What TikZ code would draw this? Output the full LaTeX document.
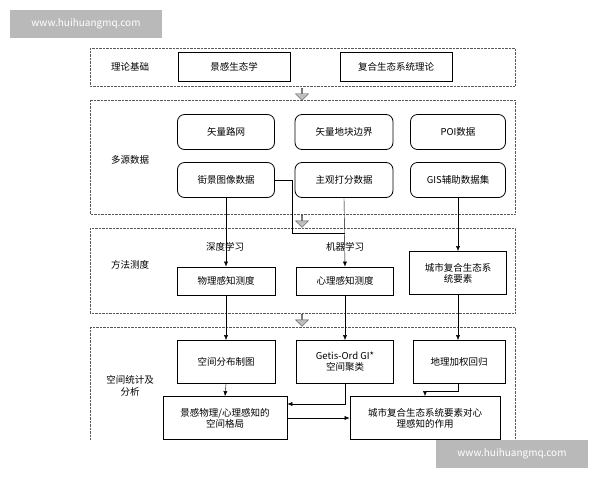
\documentclass[tikz,border=0pt]{standalone}
\usepackage{fontspec}
\setmainfont{Noto Sans CJK SC}
\usetikzlibrary{arrows.meta,shapes.arrows}
\tikzset{
  panel/.style={draw, densely dotted, gray!70!black},
  sqbox/.style={draw, thick, align=center, inner sep=1pt, font=\fontsize{9.5}{11}\selectfont},
  rdbox/.style={sqbox, rounded corners=7pt},
  lbl/.style={align=center, font=\fontsize{9.5}{12}\selectfont},
  flow/.style={-{Latex[length=5pt,width=4pt]}},
  bigarrow/.style={single arrow, draw=gray!60!black, fill=gray!50, shape border rotate=270,
    minimum width=13pt, single arrow head extend=2pt, minimum height=12pt, inner sep=0pt},
  wmark/.style={fill=gray!55, text=white, font=\fontsize{10}{12}\selectfont, inner sep=4pt}
}
\begin{document}
\begin{tikzpicture}[x=1pt,y=-1pt]
  \useasboundingbox (0,0) rectangle (600,480);

  % Panels
  \draw[panel] (90,48) rectangle (515,86);
  \draw[panel] (90,100) rectangle (515,214);
  \draw[panel] (90,228) rectangle (515,313);
  \draw[panel] (90,327) -- (90,440) (515,440) -- (515,327) -- (90,327);

  % Panel labels
  \node[lbl] (lab1) at (130,67) {理论基础};
  \node[lbl] (lab2) at (130,160) {多源数据};
  \node[lbl] (lab3) at (130,265) {方法测度};
  \node[lbl] (lab4) at (130,386) {空间统计及\\分析};

  % Theory
  \node[sqbox, minimum width=112pt, minimum height=29pt] (jg) at (234,67) {景感生态学};
  \node[sqbox, minimum width=112pt, minimum height=29pt] (fh) at (396,67) {复合生态系统理论};

  % Data
  \node[rdbox, minimum width=97pt, minimum height=35pt] (road) at (226,132) {矢量路网};
  \node[rdbox, minimum width=98pt, minimum height=35pt] (plot) at (344,132) {矢量地块边界};
  \node[rdbox, minimum width=95pt, minimum height=35pt] (poi) at (458,132) {POI数据};
  \node[rdbox, minimum width=97pt, minimum height=35pt] (street) at (226,180) {街景图像数据};
  \node[rdbox, minimum width=98pt, minimum height=35pt] (score) at (344,180) {主观打分数据};
  \node[rdbox, minimum width=95pt, minimum height=35pt] (gis) at (458,180) {GIS辅助数据集};

  % Methods
  \node[lbl] (deep) at (225,247) {深度学习};
  \node[lbl] (ml) at (345,247) {机器学习};
  \node[sqbox, minimum width=98pt, minimum height=28pt] (phys) at (226,281) {物理感知测度};
  \node[sqbox, minimum width=97pt, minimum height=28pt] (psy) at (345,281) {心理感知测度};
  \node[sqbox, minimum width=97pt, minimum height=43pt] (urb) at (458,273) {城市复合生态系\\统要素};

  % Analysis
  \node[sqbox, minimum width=98pt, minimum height=43pt] (map) at (226,362) {空间分布制图};
  \node[sqbox, minimum width=97pt, minimum height=43pt] (getis) at (345,362) {Getis-Ord GI*\\空间聚类};
  \node[sqbox, minimum width=92pt, minimum height=43pt] (gwr) at (459,362) {地理加权回归};
  \node[sqbox, minimum width=124pt, minimum height=43pt] (pat) at (225,418) {景感物理/心理感知的\\空间格局};
  \node[sqbox, minimum width=150pt, minimum height=43pt] (eff) at (425,418) {城市复合生态系统要素对心\\理感知的作用};

  % Big arrows between panels
  \node[bigarrow] (ba1) at (302,94) {};
  \node[bigarrow] (ba2) at (302,221) {};
  \node[bigarrow] (ba3) at (302,320) {};

  % Connectors
  \coordinate (k1) at (292,180);
  \coordinate (k2) at (292,233);
  \coordinate (k3) at (345,233);
  \draw (street.east) -- (k1) -- (k2) -- (k3);
  \draw[flow] (street.south) -- (phys.north);
  \draw[flow] (score.south) -- (psy.north);
  \draw[flow] (gis.south) -- (urb.north);
  \draw[flow] (phys.south) -- (map.north);
  \draw[flow] (psy.south) -- (getis.north);
  \draw[flow] (urb.south) -- (gwr.north -| urb.south);
  \draw[flow] (map.south) -- (pat.north);
  \coordinate (g1) at (345,404);
  \draw[flow] (getis.south) -- (g1) -- (g1 -| pat.east);
  \draw[flow] (pat.east) -- (eff.west);
  \coordinate (w1) at (458,391);
  \coordinate (w2) at (425,391);
  \draw[flow] (gwr.south -| w1) -- (w1) -- (w2) -- (eff.north -| w2);

  % Watermarks
  \node[wmark, minimum width=152pt, minimum height=28pt] (wm1) at (86,24) {www.huihuangmq.com};
  \node[wmark, minimum width=152pt, minimum height=28pt] (wm2) at (512,454) {www.huihuangmq.com};
\end{tikzpicture}
\end{document}
